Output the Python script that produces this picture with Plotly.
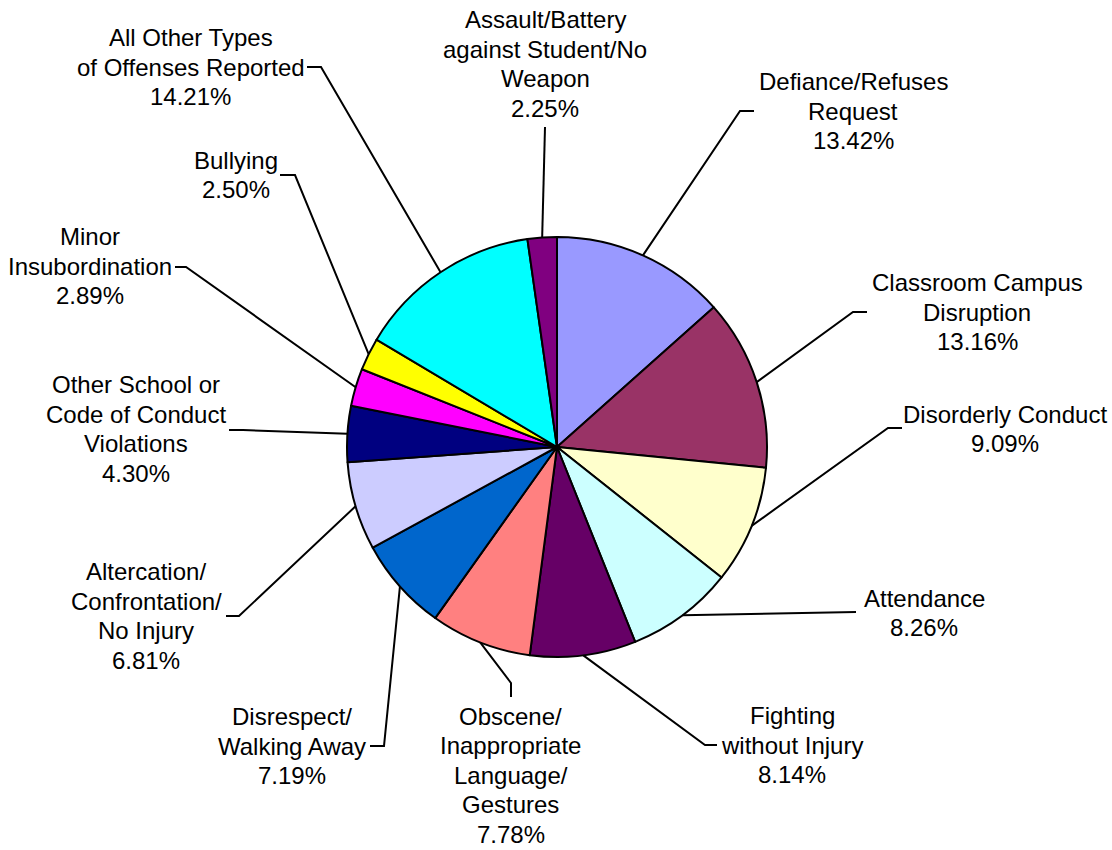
import math
import plotly.graph_objects as go

# ---- data ----
categories = [
    "Defiance/Refuses<br>Request",
    "Classroom Campus<br>Disruption",
    "Disorderly Conduct",
    "Attendance",
    "Fighting<br>without Injury",
    "Obscene/<br>Inappropriate<br>Language/<br>Gestures",
    "Disrespect/<br>Walking Away",
    "Altercation/<br>Confrontation/<br>No Injury",
    "Other School or<br>Code of Conduct<br>Violations",
    "Minor<br>Insubordination",
    "Bullying",
    "All Other Types<br>of Offenses Reported",
    "Assault/Battery<br>against Student/No<br>Weapon",
]
values = [13.42, 13.16, 9.09, 8.26, 8.14, 7.78, 7.19, 6.81, 4.30, 2.89, 2.50, 14.21, 2.25]
colors = ["#9999FF", "#993366", "#FFFFCC", "#CCFFFF", "#660066", "#FF8080", "#0066CC",
          "#CCCCFF", "#000080", "#FF00FF", "#FFFF00", "#00FFFF", "#800080"]

# ---- layout (pixels) ----
W, H = 1112, 850
CX, CY, R = 557, 447, 210
LINE_H = 29.5
FONT_SIZE = 24
label_pos = [(853, 111), (977, 312), (1005, 429), (924, 613), (792, 745), (511, 775),
             (292, 746), (146, 616), (136, 429), (90, 266), (236, 175), (191, 67), (545, 64)]
leader_pts = [
    [(740, 111), (754, 111)],
    [(853, 312), (867, 312)],
    [(888, 428), (902, 428)],
    [(856, 612)],
    [(705, 745), (717, 745)],
    [(511, 683), (511, 697)],
    [(384, 746), (370, 746)],
    [(239, 616), (226, 616)],
    [(243, 430), (229, 430)],
    [(186, 267), (175, 267)],
    [(295, 175), (280, 175)],
    [(321, 67), (307, 67)],
    [(545, 127)],
]

def px(x):
    return x / W

def py(y):
    return 1 - y / H

fig = go.Figure(go.Pie(
    labels=[c.replace("<br>", " ") for c in categories],
    values=values,
    sort=False,
    direction="clockwise",
    rotation=0,
    marker=dict(colors=colors, line=dict(color="black", width=2)),
    textinfo="none",
    hoverinfo="label+percent",
    showlegend=False,
    domain=dict(x=[px(CX - R), px(CX + R)], y=[py(CY + R), py(CY - R)]),
))

total = sum(values)
shapes = []
annotations = []
cum = 0.0
for i, v in enumerate(values):
    mid = (cum + v / 2) / total
    cum += v
    ang = 2 * math.pi * mid
    ex = CX + R * math.sin(ang)
    ey = CY - R * math.cos(ang)
    pts = [(ex, ey)] + leader_pts[i]
    path = "M " + " L ".join(f"{px(x):.5f},{py(y):.5f}" for x, y in pts)
    shapes.append(dict(type="path", xref="paper", yref="paper", path=path,
                       line=dict(color="black", width=2)))
    lx, ly = label_pos[i]
    lines = categories[i].split("<br>") + [f"{v / total * 100:.2f}%"]
    n = len(lines)
    for k, t in enumerate(lines):
        yk = ly + (k - (n - 1) / 2) * LINE_H
        annotations.append(dict(
            x=px(lx), y=py(yk), xref="paper", yref="paper",
            text=t, showarrow=False, xanchor="center", yanchor="middle", align="center",
            font=dict(family="Liberation Sans, Arial, sans-serif", size=FONT_SIZE, color="black"),
        ))

fig.update_layout(
    width=W, height=H,
    margin=dict(l=0, r=0, t=0, b=0),
    paper_bgcolor="white", plot_bgcolor="white",
    shapes=shapes, annotations=annotations,
)
fig.write_html("out.html", config={"displayModeBar": False},
               post_script="document.body.style.margin='0';document.body.style.overflow='hidden';")
